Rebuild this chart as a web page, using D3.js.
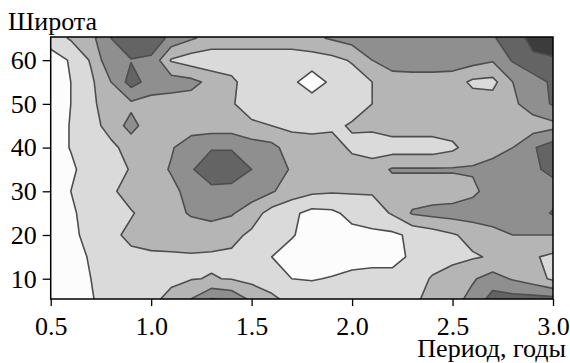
<!DOCTYPE html>
<html>
<head>
<meta charset="utf-8">
<script src="https://cdn.jsdelivr.net/npm/d3@7"></script>
<style>
  html, body { margin: 0; padding: 0; background: #fff; }
  svg { display: block; font-family: "Liberation Serif", "Times New Roman", serif; }
</style>
</head>
<body>
<svg id="chart" width="570" height="363"></svg>
<script>
// grid nodes: period (years) along x, latitude along y
const periods = [0.5, 0.6, 0.7, 0.8, 0.9, 1.0, 1.1, 1.2, 1.3, 1.4, 1.5, 1.6, 1.7,
                 1.8, 1.9, 2.0, 2.1, 2.2, 2.3, 2.4, 2.5, 2.6, 2.7, 2.8, 2.9, 3.0];
const latitudes = [65, 60, 55, 50, 45, 40, 35, 30, 25, 20, 15, 10, 5];

// shade level read at each node (0 = white ... 5 = darkest)
const lat65 = [1.0,1.6,2.2,3.5,4.3,4.2,3.2,2.6,2.2,2.0,2.0,2.0,2.0,2.3,2.6,2.9,3.3,3.4,3.4,3.4,3.4,3.4,3.4,4.0,4.8,5.0];
const lat60 = [0.0,0.6,1.6,3.3,3.45,3.3,1.4,1.0,0.8,1.0,1.0,1.0,1.0,1.0,1.2,1.6,2.5,3.0,3.1,3.1,3.0,2.9,2.6,3.6,4.3,4.4];
const lat55 = [0.0,0.5,1.3,2.5,3.9,3.1,3.0,2.8,2.2,1.7,1.0,0.8,0.7,0.0,0.7,1.0,1.5,2.0,2.0,2.0,2.0,1.3,1.2,2.5,3.0,3.7];
const lat50 = [0.0,0.5,1.3,2.0,2.3,2.1,2.0,2.0,2.0,1.6,1.0,1.0,1.0,1.0,1.0,1.1,1.5,2.0,2.0,2.0,2.0,2.0,2.0,2.3,3.0,3.6];
const lat45 = [0.0,0.55,1.0,2.0,2.8,2.0,2.0,2.0,2.0,2.0,1.7,1.5,1.3,1.2,1.3,1.6,1.7,2.0,2.0,2.0,2.0,2.0,2.0,2.0,2.0,2.2];
const lat40 = [0.0,0.55,1.0,1.2,2.0,2.1,2.4,3.1,3.4,3.4,3.0,2.8,2.0,2.0,2.0,1.3,1.0,1.0,1.0,1.0,1.3,2.0,2.2,2.5,3.4,4.0];
const lat35 = [0.0,0.3,1.0,1.2,1.55,2.0,2.6,3.4,4.2,4.2,3.5,3.0,2.4,2.0,2.0,2.0,2.0,2.6,2.6,2.6,2.6,2.6,2.8,2.8,3.3,3.8];
const lat30 = [0.0,0.5,1.0,1.3,2.0,2.2,2.2,2.9,3.2,3.1,3.0,2.6,2.0,1.7,1.6,1.6,1.6,2.0,2.0,2.0,2.0,2.3,2.9,3.0,3.0,3.0];
const lat25 = [0.0,0.3,1.0,1.0,1.4,2.0,2.2,2.6,2.8,2.6,2.0,1.1,0.7,0.2,0.3,0.8,1.0,1.6,2.6,2.8,2.9,3.0,3.0,3.0,3.0,3.6];
const lat20 = [0.0,0.2,0.9,1.2,1.8,2.0,2.0,2.0,2.0,1.8,1.3,1.0,0.6,0.0,0.0,0.2,0.3,0.3,0.7,1.0,1.4,1.8,2.2,2.5,2.5,2.5];
const lat15 = [0.0,0.1,0.6,1.0,1.2,1.3,1.35,1.4,1.35,1.3,1.0,0.5,0.0,0.0,0.1,0.2,0.3,0.3,0.6,1.0,1.2,1.4,1.6,1.8,1.6,1.3];
const lat10 = [0.0,0.1,0.5,1.0,1.0,1.2,1.3,1.45,1.55,1.45,1.2,0.7,0.5,0.45,0.55,0.7,0.7,0.7,1.0,1.6,2.0,2.4,2.9,2.4,2.0,1.3];
const lat5  = [0.0,0.0,0.4,1.0,1.0,1.3,1.8,2.6,3.7,3.4,2.4,1.9,1.1,1.0,1.0,1.0,1.0,1.0,1.2,2.0,2.2,2.8,4.0,4.0,4.0,4.0];

const levelBreaks = [0.5, 1.5, 2.5, 3.5, 4.5];
const xTicks = [0.5, 1.0, 1.5, 2.0, 2.5, 3.0];
const yTicks = [10, 20, 30, 40, 50, 60];

const shades = ['#fcfcfc', '#dadada', '#b5b5b5', '#8f8f8f', '#646464', '#3c3c3c'];

const grid = [lat65, lat60, lat55, lat50, lat45, lat40, lat35, lat30, lat25, lat20, lat15, lat10, lat5];

const plot = { left: 50.7, right: 553, top: 37, bottom: 299 };

const svg = d3.select('#chart');

const x = d3.scaleLinear().domain([0.5, 3.0]).range([plot.left, plot.right]);
const y = d3.scaleLinear().domain([5.36, 65.3]).range([plot.bottom, plot.top]);

const nx = periods.length;
const ny = latitudes.length;
// d3.contours puts node i at grid coordinate i + 0.5
const gridX = d3.scaleLinear().domain([0.5, nx - 0.5]).range([periods[0], periods[nx - 1]]);
const gridY = d3.scaleLinear().domain([0.5, ny - 0.5]).range([latitudes[0], latitudes[ny - 1]]);

const projection = d3.geoTransform({
  point(gx, gy) { this.stream.point(x(gridX(gx)), y(gridY(gy))); }
});
const path = d3.geoPath(projection);

const bands = d3.contours()
  .size([nx, ny])
  .thresholds(levelBreaks)(grid.flat());

svg.append('clipPath')
  .attr('id', 'plot-clip')
  .append('rect')
  .attr('x', plot.left)
  .attr('y', plot.top)
  .attr('width', plot.right - plot.left)
  .attr('height', plot.bottom - plot.top);

const field = svg.append('g').attr('clip-path', 'url(#plot-clip)');

field.append('rect')
  .attr('x', plot.left)
  .attr('y', plot.top)
  .attr('width', plot.right - plot.left)
  .attr('height', plot.bottom - plot.top)
  .attr('fill', shades[0]);

field.selectAll('.band')
  .data(bands)
  .enter()
  .append('path')
  .attr('class', 'band')
  .attr('d', path)
  .attr('fill', (d, i) => shades[i + 1]);

field.selectAll('.isoline')
  .data(bands)
  .enter()
  .append('path')
  .attr('class', 'isoline')
  .attr('d', path)
  .attr('fill', 'none')
  .attr('stroke', '#4e4e4e')
  .attr('stroke-width', 1.6)
  .attr('stroke-linejoin', 'round');

// frame
svg.append('rect')
  .attr('x', plot.left)
  .attr('y', plot.top)
  .attr('width', plot.right - plot.left)
  .attr('height', plot.bottom - plot.top)
  .attr('fill', 'none')
  .attr('stroke', '#000')
  .attr('stroke-width', 1.5);

const yAxis = svg.append('g')
  .attr('transform', `translate(${plot.left},0)`)
  .call(d3.axisLeft(y).tickValues(yTicks).tickSize(8).tickPadding(6).tickFormat(d3.format('d')));

const xAxis = svg.append('g')
  .attr('transform', `translate(0,${plot.bottom})`)
  .call(d3.axisBottom(x).tickValues(xTicks).tickSize(7).tickPadding(11).tickFormat(d3.format('.1f')));

[xAxis, yAxis].forEach(g => {
  g.select('.domain').remove();
  g.selectAll('line').attr('stroke', '#000').attr('stroke-width', 1.3);
  g.selectAll('text')
    .attr('fill', '#000')
    .attr('font-size', '26px')
    .attr('font-family', '"Liberation Serif", "Times New Roman", serif');
});

svg.append('text')
  .attr('x', 8)
  .attr('y', 30)
  .attr('font-size', '26px')
  .attr('fill', '#000')
  .text('Широта');

svg.append('text')
  .attr('x', 566)
  .attr('y', 357)
  .attr('text-anchor', 'end')
  .attr('font-size', '26px')
  .attr('fill', '#000')
  .text('Период, годы');
</script>
</body>
</html>
